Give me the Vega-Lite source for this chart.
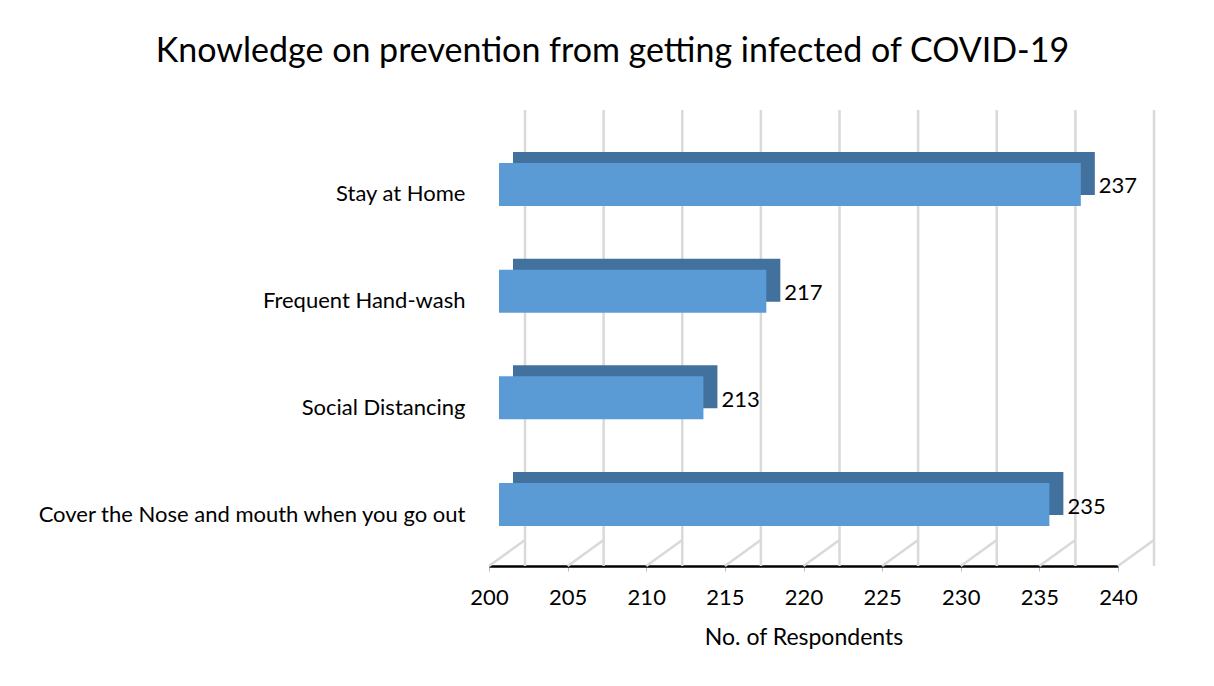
{
  "$schema": "https://vega.github.io/schema/vega-lite/v6.json",
  "autosize": {"type": "none"},
  "width": 629,
  "height": 456,
  "padding": {"left": 489, "top": 110, "right": 96, "bottom": 120},
  "background": "white",
  "config": {"view": {"stroke": null}, "font": "Lato"},
  "title": {
    "text": "Knowledge on prevention from getting infected of COVID-19",
    "fontSize": 34,
    "fontWeight": "normal",
    "font": "Lato",
    "color": "#000000",
    "anchor": "middle",
    "frame": "group",
    "dx": -191,
    "offset": 40
  },
  "datasets": {
    "bars": [
      {"category": "Stay at Home", "value": 237},
      {"category": "Frequent Hand-wash", "value": 217},
      {"category": "Social Distancing", "value": 213},
      {"category": "Cover the Nose and mouth when you go out", "value": 235}
    ],
    "grid": [
      {"v": 200}, {"v": 205}, {"v": 210}, {"v": 215}, {"v": 220},
      {"v": 225}, {"v": 230}, {"v": 235}, {"v": 240}
    ]
  },
  "layer": [
    {
      "data": {"name": "grid"},
      "mark": {"type": "rule", "color": "#d9d9d9", "strokeWidth": 2.5, "xOffset": 36, "y2Offset": -26},
      "encoding": {
        "x": {"field": "v", "type": "quantitative", "scale": {"domain": [200, 240], "zero": false, "nice": false},
              "axis": {"values": [200, 205, 210, 215, 220, 225, 230, 235, 240], "grid": false, "labelFlush": false,
                       "domainColor": "#000000", "domainWidth": 2.5, "tickColor": "#9DC3E6", "tickSize": 5, "tickWidth": 1,
                       "labelFontSize": 22, "labelColor": "#000000", "labelPadding": 16, "labelFont": "Lato",
                       "title": "No. of Respondents", "titleFontSize": 23, "titleFontWeight": "normal", "titleColor": "#000000",
                       "titleFont": "Lato", "titlePadding": 18}}
      }
    },
    {
      "data": {"name": "grid"},
      "mark": {"type": "rule", "color": "#d9d9d9", "strokeWidth": 2.5, "x2Offset": 36, "y2Offset": -26},
      "encoding": {
        "x": {"field": "v", "type": "quantitative"},
        "x2": {"field": "v"},
        "y": {"value": "height"},
        "y2": {"value": "height"}
      }
    },
    {
      "data": {"name": "bars"},
      "mark": {"type": "bar", "color": "#41719C", "xOffset": 24, "x2Offset": 24, "yOffset": -11},
      "encoding": {
        "x": {"field": "value", "type": "quantitative"},
        "x2": {"datum": 200},
        "y": {"field": "category", "type": "nominal", "sort": null,
              "scale": {"paddingInner": 0.597, "paddingOuter": 0.435, "align": 0.57},
              "axis": {"domain": false, "ticks": false, "grid": false, "labelPadding": 24, "labelFontSize": 22,
                       "labelOffset": 10, "labelColor": "#000000", "labelFont": "Lato", "title": null, "labelLimit": 600}}
      }
    },
    {
      "data": {"name": "bars"},
      "mark": {"type": "bar", "color": "#5B9BD5", "xOffset": 10, "x2Offset": 10},
      "encoding": {
        "x": {"field": "value", "type": "quantitative"},
        "x2": {"datum": 200},
        "y": {"field": "category", "type": "nominal", "sort": null}
      }
    },
    {
      "data": {"name": "bars"},
      "mark": {"type": "text", "align": "left", "baseline": "middle", "dx": 28, "dy": 2, "fontSize": 22, "font": "Lato", "color": "#000000"},
      "encoding": {
        "x": {"field": "value", "type": "quantitative"},
        "y": {"field": "category", "type": "nominal", "sort": null},
        "text": {"field": "value", "type": "quantitative"}
      }
    }
  ]
}
